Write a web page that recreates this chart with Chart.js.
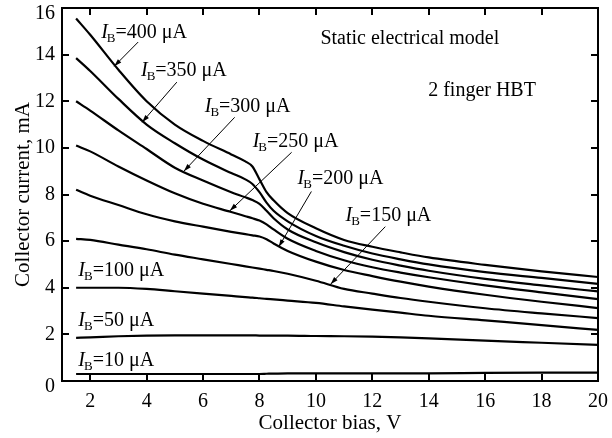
<!DOCTYPE html>
<html>
<head>
<meta charset="utf-8">
<script src="https://cdn.jsdelivr.net/npm/chart.js@4.4.0/dist/chart.umd.min.js"></script>
<style>
  html, body { margin: 0; padding: 0; background: #fff; }
  #wrap { position: relative; width: 612px; height: 438px; }
  .layer { position: absolute; left: 0; top: 0; width: 612px; height: 438px; }
  #frameLayer { pointer-events: none; }
</style>
</head>
<body>
<div id="wrap">
  <div class="layer"><canvas id="iv"></canvas></div>
  <div class="layer" id="frameLayer"><canvas id="ivFrame"></canvas></div>
</div>
<script>
// collector bias, V
const volts = [1.5, 2, 3, 4, 5, 6, 7, 7.5, 7.75, 8, 8.25, 8.5, 9, 10, 11, 12, 13, 14, 16, 18, 20];

// collector current, mA, one list per base current
const ib400 = [15.55, 14.85, 13.35, 12.0, 11.0, 10.3, 9.72, 9.42, 9.2, 8.65, 8.1, 7.75, 7.2, 6.55, 6.05, 5.76, 5.52, 5.3, 4.98, 4.7, 4.46];
const ib350 = [13.85, 13.3, 12.1, 11.0, 10.2, 9.5, 8.92, 8.65, 8.45, 8.1, 7.65, 7.3, 6.85, 6.22, 5.8, 5.47, 5.22, 5.0, 4.67, 4.42, 4.17];
const ib300 = [12.0, 11.6, 10.75, 9.95, 9.15, 8.6, 8.1, 7.88, 7.76, 7.6, 7.3, 6.98, 6.5, 5.95, 5.53, 5.2, 4.95, 4.73, 4.38, 4.1, 3.84];
const ib250 = [10.1, 9.85, 9.2, 8.6, 8.05, 7.6, 7.25, 7.07, 6.98, 6.88, 6.72, 6.5, 6.1, 5.58, 5.18, 4.88, 4.65, 4.45, 4.1, 3.8, 3.51];
const ib200 = [8.2, 7.95, 7.55, 7.15, 6.85, 6.62, 6.4, 6.3, 6.25, 6.2, 6.08, 5.9, 5.58, 5.12, 4.76, 4.5, 4.26, 4.05, 3.7, 3.4, 3.13];
const ib150 = [6.1, 6.05, 5.85, 5.65, 5.42, 5.22, 5.02, 4.92, 4.87, 4.82, 4.77, 4.72, 4.6, 4.3, 3.95, 3.75, 3.56, 3.4, 3.12, 2.9, 2.7];
const ib100 = [4.0, 4.0, 4.0, 3.95, 3.85, 3.75, 3.65, 3.6, 3.58, 3.55, 3.52, 3.5, 3.45, 3.35, 3.2, 3.06, 2.93, 2.8, 2.6, 2.4, 2.19];
const ib50 = [1.85, 1.87, 1.92, 1.95, 1.96, 1.96, 1.96, 1.96, 1.96, 1.95, 1.95, 1.95, 1.95, 1.93, 1.92, 1.9, 1.87, 1.83, 1.73, 1.64, 1.55];
const ib10 = [0.3, 0.3, 0.3, 0.3, 0.3, 0.3, 0.3, 0.3, 0.3, 0.3, 0.31, 0.32, 0.33, 0.33, 0.33, 0.33, 0.33, 0.33, 0.35, 0.36, 0.36];

const baseCurrents = ['400', '350', '300', '250', '200', '150', '100', '50', '10'];
const xTicks = [2, 4, 6, 8, 10, 12, 14, 16, 18, 20];
const yTicks = [0, 2, 4, 6, 8, 10, 12, 14, 16];
const xMin = 1, xMax = 20, yMin = 0, yMax = 16;

// curve labels, in data units: text baseline start and arrow (from -> tip)
const curveLabels = [
    { ib: '400', x: 2.39, y: 14.71, arrow: [3.70, 14.54, 2.85, 13.5] },
    { ib: '350', x: 3.80, y: 13.08, arrow: [5.07, 12.82, 3.84, 11.1] },
    { ib: '300', x: 6.06, y: 11.53, arrow: [7.12, 11.31, 5.32, 9.0] },
    { ib: '250', x: 7.76, y: 10.02, arrow: [9.14, 9.81, 6.95, 7.3] },
    { ib: '200', x: 9.35, y: 8.43, arrow: [9.84, 8.13, 8.68, 5.75] },
    { ib: '150', x: 11.05, y: 6.88, arrow: [12.46, 6.62, 10.52, 4.15] },
    { ib: '100', x: 1.58, y: 4.52 },
    { ib: '50', x: 1.58, y: 2.37 },
    { ib: '10', x: 1.58, y: 0.65 }
];
const notes = [
    { text: 'Static electrical model', x: 10.16, y: 14.45 },
    { text: '2 finger HBT', x: 13.98, y: 12.22 }
];

const FONT = '"Liberation Serif", "Times New Roman", serif';
Chart.defaults.color = '#000';
Chart.defaults.font.family = FONT;

const series = [ib400, ib350, ib300, ib250, ib200, ib150, ib100, ib50, ib10];

const labelPlugin = {
    id: 'ivLabels',
    afterDraw(chart) {
        const ctx = chart.ctx;
        const xs = chart.scales.x, ys = chart.scales.y;
        const L = xs.getPixelForValue(xMin);
        ctx.save();
        ctx.fillStyle = '#000';
        ctx.strokeStyle = '#000';
        // end tick labels sit a little below their ticks
        ctx.font = '20px ' + FONT;
        ctx.textAlign = 'right';
        ctx.textBaseline = 'middle';
        [yMin, yMax].forEach(v => ctx.fillText(String(v), L - 7, ys.getPixelForValue(v) + 6));

        ctx.textBaseline = 'alphabetic';
        ctx.textAlign = 'left';
        curveLabels.forEach(l => {
            let px = xs.getPixelForValue(l.x);
            const py = ys.getPixelForValue(l.y);
            ctx.font = 'italic 20px ' + FONT;
            ctx.fillText('I', px, py);
            px += ctx.measureText('I').width - 1;
            ctx.font = '13px ' + FONT;
            ctx.fillText('B', px, py + 4);
            px += ctx.measureText('B').width;
            ctx.font = '20px ' + FONT;
            ctx.fillText('=' + l.ib + ' \u03bcA', px, py);
            if (l.arrow) {
                const x1 = xs.getPixelForValue(l.arrow[0]), y1 = ys.getPixelForValue(l.arrow[1]);
                const x2 = xs.getPixelForValue(l.arrow[2]), y2 = ys.getPixelForValue(l.arrow[3]);
                const ang = Math.atan2(y2 - y1, x2 - x1);
                ctx.lineWidth = 1;
                ctx.beginPath();
                ctx.moveTo(x1, y1);
                ctx.lineTo(x2, y2);
                ctx.stroke();
                const len = 8, w = 0.3;
                ctx.beginPath();
                ctx.moveTo(x2, y2);
                ctx.lineTo(x2 - len * Math.cos(ang - w), y2 - len * Math.sin(ang - w));
                ctx.lineTo(x2 - len * Math.cos(ang + w), y2 - len * Math.sin(ang + w));
                ctx.closePath();
                ctx.fill();
            }
        });
        ctx.font = '20px ' + FONT;
        notes.forEach(n => {
            ctx.fillText(n.text, xs.getPixelForValue(n.x), ys.getPixelForValue(n.y));
        });
        ctx.restore();
    }
};

// frame with inward ticks on all four sides, drawn on a plain overlay chart with the same scales
const framePlugin = {
    id: 'frameDraw',
    afterDraw(chart) {
        const ctx = chart.ctx;
        const xs = chart.scales.x, ys = chart.scales.y;
        const L = Math.round(xs.getPixelForValue(xMin));
        const R = Math.round(xs.getPixelForValue(xMax));
        const T = Math.round(ys.getPixelForValue(yMax));
        const B = Math.round(ys.getPixelForValue(yMin));
        ctx.save();
        ctx.fillStyle = '#000';
        ctx.fillRect(L - 1, T - 1, R - L + 2, 2);
        ctx.fillRect(L - 1, B - 1, R - L + 2, 2);
        ctx.fillRect(L - 1, T - 1, 2, B - T + 2);
        ctx.fillRect(R - 1, T - 1, 2, B - T + 2);
        xTicks.forEach(v => {
            const px = Math.round(xs.getPixelForValue(v));
            ctx.fillRect(px - 1, B - 7, 2, 7);
            ctx.fillRect(px - 1, T, 2, 7);
        });
        yTicks.forEach(v => {
            const py = Math.round(ys.getPixelForValue(v));
            ctx.fillRect(L, py - 1, 7, 2);
            ctx.fillRect(R - 7, py - 1, 7, 2);
        });
        ctx.restore();
    }
};

const sharedLayout = { padding: { top: 8, right: 14, left: 0, bottom: 0 } };

new Chart(document.getElementById('iv'), {
    type: 'line',
    data: {
        datasets: series.map((vals, i) => ({
            label: 'IB=' + baseCurrents[i] + ' \u03bcA',
            data: vals.map((v, j) => ({ x: volts[j], y: v })),
            borderColor: '#000',
            borderWidth: 2.2,
            pointRadius: 0,
            fill: false,
            cubicInterpolationMode: 'monotone'
        }))
    },
    options: {
        responsive: true,
        maintainAspectRatio: false,
        animation: false,
        layout: sharedLayout,
        plugins: { legend: { display: false }, tooltip: { enabled: false } },
        scales: {
            x: {
                type: 'linear',
                min: xMin,
                max: xMax,
                grid: { display: false, drawTicks: false },
                border: { display: false },
                afterBuildTicks: s => { s.ticks = xTicks.map(v => ({ value: v })); },
                afterFit: s => { s.height = 57; s.paddingLeft = 0; s.paddingRight = 0; },
                ticks: { padding: 9, font: { size: 20 }, maxRotation: 0 },
                title: { display: true, text: 'Collector bias, V', font: { size: 21 }, padding: { top: 0, bottom: 2 } }
            },
            y: {
                type: 'linear',
                min: yMin,
                max: yMax,
                grid: { display: false, drawTicks: false },
                border: { display: false },
                afterBuildTicks: s => { s.ticks = yTicks.map(v => ({ value: v })); },
                afterFit: s => { s.width = 62; s.paddingTop = 0; s.paddingBottom = 0; },
                ticks: {
                    padding: 7,
                    font: { size: 20 },
                    callback: v => (v === yMin || v === yMax) ? '' : String(v)
                },
                title: { display: true, text: 'Collector current, mA', font: { size: 21 }, padding: { top: 11, bottom: 0 } }
            }
        }
    },
    plugins: [labelPlugin]
});

new Chart(document.getElementById('ivFrame'), {
    type: 'line',
    data: { datasets: [] },
    options: {
        responsive: true,
        maintainAspectRatio: false,
        animation: false,
        events: [],
        layout: sharedLayout,
        plugins: { legend: { display: false }, tooltip: { enabled: false } },
        scales: {
            x: {
                type: 'linear', min: xMin, max: xMax,
                grid: { display: false, drawTicks: false }, border: { display: false },
                ticks: { color: 'rgba(0,0,0,0)' },
                afterFit: s => { s.height = 57; s.paddingLeft = 0; s.paddingRight = 0; }
            },
            y: {
                type: 'linear', min: yMin, max: yMax,
                grid: { display: false, drawTicks: false }, border: { display: false },
                ticks: { color: 'rgba(0,0,0,0)' },
                afterFit: s => { s.width = 62; s.paddingTop = 0; s.paddingBottom = 0; }
            }
        }
    },
    plugins: [framePlugin]
});
</script>
</body>
</html>
